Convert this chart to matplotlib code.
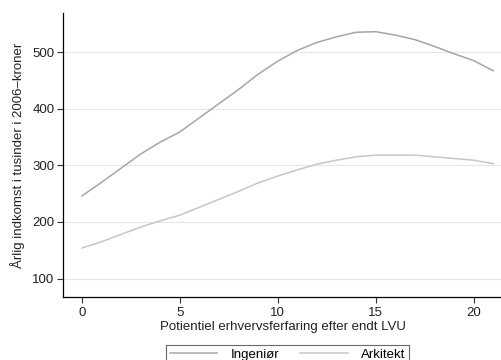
import matplotlib
matplotlib.use("Agg")
import matplotlib.pyplot as plt

plt.rcParams['font.family'] = ['Liberation Sans', 'DejaVu Sans']

years = list(range(0, 22))
ingenioer = [246, 270, 295, 320, 341, 359, 384, 409, 434, 461, 484, 503, 517, 527, 535, 536, 530, 522, 510, 497, 485, 467]
arkitekt = [154, 165, 178, 191, 202, 212, 226, 240, 254, 269, 281, 292, 302, 309, 315, 318, 318, 318, 315, 312, 309, 303]
series_labels = ["Ingeniør", "Arkitekt"]
yticks = [100, 200, 300, 400, 500]
xticks = [0, 5, 10, 15, 20]

fig = plt.figure(figsize=(5.02, 3.6), dpi=100)
ax = fig.add_axes([63/502, 1-297/360, 1-63/502, (297-13)/360])

ax.plot(years, ingenioer, color='#a6a6a6', lw=1.1, label=series_labels[0])
ax.plot(years, arkitekt, color='#c6c6c6', lw=1.1, label=series_labels[1])

ax.set_xlim(-0.97, 21.45)
ax.set_ylim(67.4, 569)
ax.set_yticks(yticks)
ax.set_xticks(xticks)
ax.yaxis.grid(True, color='#e6e6e6', lw=0.8)
ax.set_axisbelow(True)
for s in ['top', 'right']:
    ax.spines[s].set_visible(False)
ax.spines['left'].set_linewidth(0.9)
ax.spines['bottom'].set_linewidth(0.9)
ax.tick_params(axis='both', labelsize=9.5, length=4, width=0.8, color='#333333', labelcolor='#222222', pad=2)
ax.tick_params(axis='x', pad=3.5)
ax.set_xlabel("Potientiel erhvervsferfaring efter endt LVU", fontsize=9.5, color='#222222', labelpad=1)
ax.set_ylabel("Årlig indkomst i tusinder i 2006–kroner", fontsize=9.5, color='#222222', labelpad=5)

leg = fig.legend(loc='upper center', bbox_to_anchor=(0.573, 1-338/360), ncol=2,
                 fontsize=9.5, frameon=True, fancybox=False, edgecolor='#444444',
                 handlelength=3.6, columnspacing=1.6, borderpad=0.3, handletextpad=1.0)
leg.get_frame().set_linewidth(0.8)

fig.savefig("out.png", dpi=100)
